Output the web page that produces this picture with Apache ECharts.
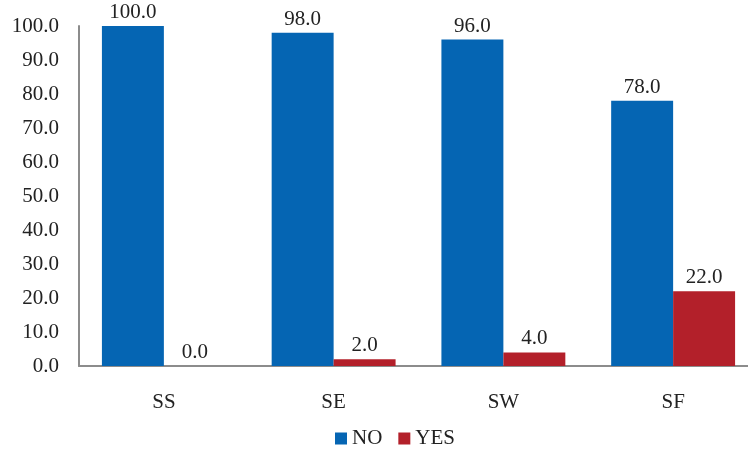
<!DOCTYPE html>
<html>
<head>
<meta charset="utf-8">
<script src="https://cdn.jsdelivr.net/npm/echarts@6/dist/echarts.min.js"></script>
<style>
  html, body { margin: 0; padding: 0; background: #fff; overflow: hidden; }
  /* the plot runs slightly past the right edge of the page */
  #chart { width: 760px; height: 452px; }
</style>
</head>
<body>
<div id="chart"></div>
<script>
// Share of responses per site
const categories = ['SS', 'SE', 'SW', 'SF'];
const noValues = [100.0, 98.0, 96.0, 78.0];
const yesValues = [0.0, 2.0, 4.0, 22.0];

const FONT = '"Liberation Serif", "DejaVu Serif", serif';
const FS = 21;

const chart = echarts.init(document.getElementById('chart'), null, { renderer: 'canvas' });

const labelStyle = {
  show: true,
  position: 'top',
  distance: 3,
  fontFamily: FONT,
  fontSize: FS,
  color: '#222',
  formatter: p => p.value.toFixed(1)
};

chart.setOption({
  animation: false,
  textStyle: { fontFamily: FONT },
  grid: { left: 79, top: 26, width: 679, height: 340 },
  legend: {
    bottom: -2,
    left: 330,
    itemWidth: 12,
    itemHeight: 12,
    itemGap: 16,
    icon: 'rect',
    textStyle: { fontFamily: FONT, fontSize: FS, color: '#222' },
    data: ['NO', 'YES']
  },
  xAxis: {
    type: 'category',
    data: categories,
    axisLine: { lineStyle: { color: '#8c8c8c', width: 2 } },
    axisTick: { show: false },
    axisLabel: { fontFamily: FONT, fontSize: FS, color: '#222', margin: 26 }
  },
  yAxis: {
    type: 'value',
    min: 0,
    max: 100,
    interval: 10,
    axisLine: { show: true, lineStyle: { color: '#8c8c8c', width: 2 } },
    axisTick: { show: false },
    splitLine: { show: false },
    axisLabel: {
      fontFamily: FONT, fontSize: FS, color: '#222', margin: 20,
      formatter: v => v.toFixed(1)
    }
  },
  series: [
    {
      name: 'NO',
      type: 'bar',
      data: noValues,
      barGap: '0%',
      barCategoryGap: '27%',
      itemStyle: { color: '#0565B3' },
      label: labelStyle
    },
    {
      name: 'YES',
      type: 'bar',
      data: yesValues,
      itemStyle: { color: '#B3202A' },
      label: labelStyle
    }
  ]
});
</script>
</body>
</html>
